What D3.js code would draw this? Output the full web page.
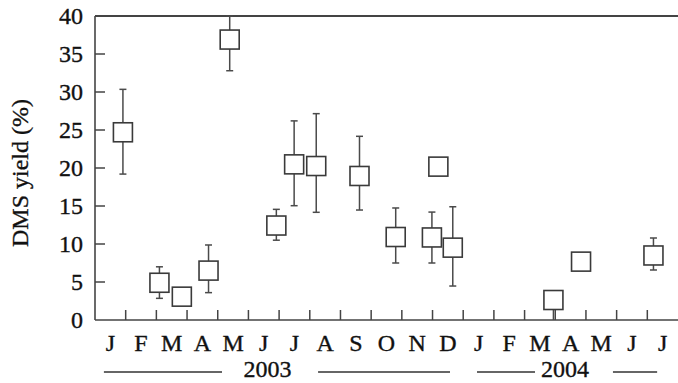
<!DOCTYPE html>
<html lang='en'>
<head>
  <meta charset='UTF-8'>
  <title>DMS yield</title>
  <script src='https://d3js.org/d3.v7.min.js'></script>
  <style>
    html, body { margin: 0; padding: 0; background: #fff; }
    #main { width: 678px; height: 383px; }
  </style>
</head>
<body>
<div id='main'></div>
<script>
  // month ticks, Jan 2003 .. Jul 2004
  const months = ['J', 'F', 'M', 'A', 'M', 'J', 'J', 'A', 'S', 'O', 'N', 'D', 'J', 'F', 'M', 'A', 'M', 'J', 'J']
  const yTicks = [0, 5, 10, 15, 20, 25, 30, 35, 40]
  // sampling time, in months since 1 Jan 2003
  const sampleTime = [0.91, 2.1, 2.83, 3.7, 4.39, 5.91, 6.49, 7.21, 8.62, 9.8, 10.98, 11.19, 11.66, 14.94, 15.84, 18.2]
  // DMS yield (%)
  const yieldMean = [24.7, 4.9, 3.07, 6.5, 36.9, 12.43, 20.48, 20.26, 18.95, 10.92, 10.86, 20.18, 9.52, 2.63, 7.68, 8.49]
  const yieldHigh = [30.35, 7.0, null, 9.87, 40, 14.56, 26.2, 27.15, 24.17, 14.74, 14.2, null, 14.9, null, null, 10.79]
  const yieldLow = [19.2, 2.85, null, 3.6, 32.8, 10.5, 15.04, 14.17, 14.47, 7.5, 7.5, null, 4.47, 0, null, 6.58]
  const years = ['2003', '2004']

  const width = 678
  const height = 383
  const margin = { left: 95, right: 0, top: 16, bottom: 63 }
  const lineColor = '#444'
  const fontFamily = "'Liberation Serif', 'Times New Roman', Times, 'DejaVu Serif', serif"
  const fontSize = '24px'

  const svg = d3.select('#main').append('svg')
    .attr('width', width)
    .attr('height', height)
    .attr('font-family', fontFamily)
    .style('font-family', fontFamily)

  const x = d3.scaleLinear().domain([0, months.length]).range([margin.left, width - margin.right])
  const y = d3.scaleLinear().domain([0, 40]).range([height - margin.bottom, margin.top])

  const points = sampleTime.map((t, i) => ({ t: t, v: yieldMean[i], hi: yieldHigh[i], lo: yieldLow[i] }))

  // all text a little heavier, like the printed figure
  function label (sel) {
    return sel.attr('fill', '#111')
      .attr('stroke', '#111')
      .attr('stroke-width', 0.35)
      .style('font-size', fontSize)
  }

  // frame: left, bottom, top
  const frame = svg.append('g').attr('stroke', lineColor).attr('fill', 'none')
  frame.append('line').attr('x1', x(0)).attr('x2', x(0)).attr('y1', y(40)).attr('y2', y(0)).attr('stroke-width', 1.6)
  frame.append('line').attr('x1', x(0)).attr('x2', width).attr('y1', y(0)).attr('y2', y(0)).attr('stroke-width', 1.6)
  frame.append('line').attr('x1', x(0)).attr('x2', width).attr('y1', y(40)).attr('y2', y(40)).attr('stroke-width', 2)

  // y axis ticks (inward) and labels
  const yAxis = svg.append('g')
  yAxis.selectAll('line.yt').data(yTicks.slice(1, -1)).enter().append('line')
    .attr('x1', x(0)).attr('x2', x(0) + 10)
    .attr('y1', d => y(d)).attr('y2', d => y(d))
    .attr('stroke', lineColor).attr('stroke-width', 1.5)
  yAxis.selectAll('text').data(yTicks).enter().append('text')
    .attr('x', 83).attr('y', d => y(d)).attr('dy', '0.35em')
    .attr('text-anchor', 'end')
    .call(label)
    .text(d => d)

  // x axis: tick at each month boundary, label in the middle
  const xAxis = svg.append('g')
  xAxis.selectAll('line').data(d3.range(1, months.length)).enter().append('line')
    .attr('x1', d => x(d)).attr('x2', d => x(d))
    .attr('y1', y(0)).attr('y2', y(0) - 10)
    .attr('stroke', lineColor).attr('stroke-width', 1.5)
  xAxis.selectAll('text').data(months).enter().append('text')
    .attr('x', (d, i) => x(i + 0.5)).attr('y', 351)
    .attr('text-anchor', 'middle')
    .call(label)
    .text(d => d)

  // year labels with rules either side
  const yearG = svg.append('g')
  const yearPos = [5.62, 15.32]
  yearG.selectAll('text').data(years).enter().append('text')
    .attr('x', (d, i) => x(yearPos[i])).attr('y', 377)
    .attr('text-anchor', 'middle')
    .call(label)
    .text(d => d)
  const rules = [[0.29, 4.14], [7.27, 11.57], [12.45, 14.34], [16.88, 18.32]]
  yearG.selectAll('line').data(rules).enter().append('line')
    .attr('x1', d => x(d[0])).attr('x2', d => x(d[1]))
    .attr('y1', 372).attr('y2', 372)
    .attr('stroke', '#333').attr('stroke-width', 1.5)

  // y axis title
  svg.append('text')
    .attr('transform', `translate(28, ${(y(0) + y(40)) / 2 + 5}) rotate(-90)`)
    .attr('text-anchor', 'middle')
    .call(label)
    .text('DMS yield (%)')

  // error bars
  const bars = svg.append('g').attr('stroke', '#4a4a4a').attr('stroke-width', 1.5)
  const withErr = points.filter(d => d.hi !== null || d.lo !== null)
  bars.selectAll('line.bar').data(withErr).enter().append('line')
    .attr('x1', d => x(d.t)).attr('x2', d => x(d.t))
    .attr('y1', d => y(d.hi !== null ? d.hi : d.v))
    .attr('y2', d => y(d.lo !== null ? d.lo : d.v))
  bars.selectAll('line.cap-hi').data(withErr.filter(d => d.hi !== null)).enter().append('line')
    .attr('x1', d => x(d.t) - 3.5).attr('x2', d => x(d.t) + 3.5)
    .attr('y1', d => y(d.hi)).attr('y2', d => y(d.hi))
  bars.selectAll('line.cap-lo').data(withErr.filter(d => d.lo !== null && d.lo > 0)).enter().append('line')
    .attr('x1', d => x(d.t) - 3.5).attr('x2', d => x(d.t) + 3.5)
    .attr('y1', d => y(d.lo)).attr('y2', d => y(d.lo))

  // square markers
  const box = 19
  svg.append('g').selectAll('rect').data(points).enter().append('rect')
    .attr('x', d => x(d.t) - box / 2).attr('y', d => y(d.v) - box / 2)
    .attr('width', box).attr('height', box)
    .attr('fill', '#fff').attr('stroke', '#3a3a3a').attr('stroke-width', 1.6)
</script>
</body>
</html>
